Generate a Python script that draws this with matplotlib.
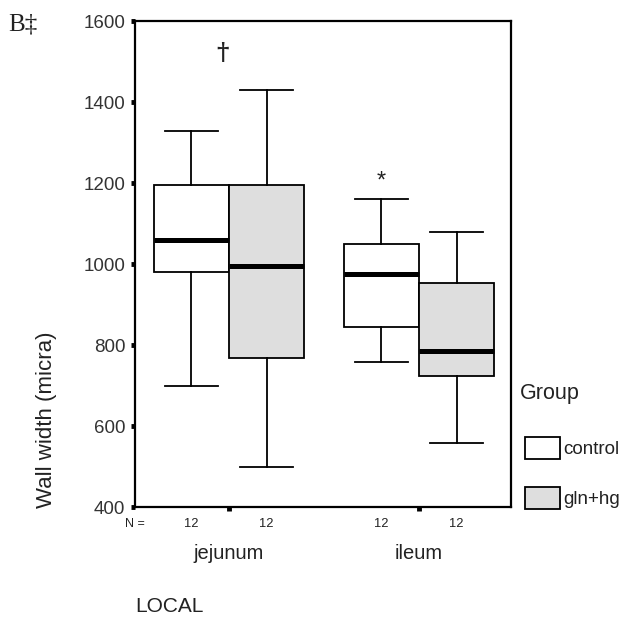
import matplotlib
matplotlib.use("Agg")
import matplotlib.pyplot as plt
from matplotlib.patches import Rectangle

# ---- data ----
categories = ["jejunum", "ileum"]
groups = ["control", "gln+hg"]
n_counts = [12, 12, 12, 12]
# order: jejunum-control, jejunum-gln+hg, ileum-control, ileum-gln+hg
medians = [1060, 996, 977, 786]
q1 = [981, 768, 846, 725]
q3 = [1196, 1196, 1050, 953]
whislo = [699, 500, 759, 560]
whishi = [1328, 1430, 1161, 1079]
yticks = [400, 600, 800, 1000, 1200, 1400, 1600]
fills = ["white", "#dedede"]

plt.rcParams['font.family'] = ['Liberation Sans', 'DejaVu Sans']
txt = "#222222"

fig = plt.figure(figsize=(6.25, 6.21), dpi=100)
ax = fig.add_axes([0.216, 0.183, 0.6016, 0.7827])

offset = 0.198
width = 0.395
positions = []
for ci in range(len(categories)):
    positions += [ci + 1 - offset, ci + 1 + offset]

stats = []
for i in range(4):
    stats.append(dict(med=medians[i], q1=q1[i], q3=q3[i],
                      whislo=whislo[i], whishi=whishi[i], fliers=[]))

bp = ax.bxp(stats, positions=positions, widths=width, patch_artist=True,
            showfliers=False, capwidths=0.28,
            boxprops=dict(linewidth=1.3, edgecolor="black"),
            whiskerprops=dict(linewidth=1.3, color="black"),
            capprops=dict(linewidth=1.3, color="black"),
            medianprops=dict(linewidth=3.6, color="black", solid_capstyle="butt"),
            manage_ticks=False)
for i, patch in enumerate(bp["boxes"]):
    patch.set_facecolor(fills[i % 2])

ax.set_xlim(0.505, 2.484)
ax.set_ylim(400, 1600)
ax.set_yticks(yticks)
ax.set_yticklabels([str(v) for v in yticks], fontsize=13.5, color="#333333")
ax.set_xticks([1, 2])
ax.set_xticklabels([])
ax.tick_params(axis="both", direction="out", length=3, width=3.5, color="black")
ax.tick_params(axis="y", pad=4)
for s in ax.spines.values():
    s.set_linewidth(1.6)

# N labels
ax.text(0.505, -0.035, "N =", transform=ax.get_xaxis_transform(), ha="center",
        va="center", fontsize=9, color=txt)
for p, n in zip(positions, n_counts):
    ax.text(p, -0.035, str(n), transform=ax.get_xaxis_transform(), ha="center",
            va="center", fontsize=9.3, color=txt)
for ci, c in enumerate(categories):
    ax.text(ci + 1, -0.094, c, transform=ax.get_xaxis_transform(), ha="center",
            va="center", fontsize=14.5, color=txt)

# significance markers
ax.text(0.967, 1522, "†", ha="center", va="center", fontsize=17,
        family="DejaVu Serif", fontweight="bold", color=txt)
ax.text(positions[2], 1204, "*", ha="center", va="center", fontsize=17, color=txt)

fig.text(47 / 625, 1 - 420 / 621, "Wall width (micra)", rotation=90, ha="center",
         va="center", fontsize=16, color=txt)
fig.text(135 / 625, 1 - 606 / 621, "LOCAL", ha="left", va="center", fontsize=15,
         color=txt)
fig.text(8 / 625, 1 - 25 / 621, "B‡", ha="left", va="center", fontsize=18,
         family=["Liberation Serif", "DejaVu Serif"], color=txt)

# legend
fig.text(520 / 625, 1 - 394 / 621, "Group", ha="left", va="center", fontsize=15.5,
         color=txt)
legend_y = [448, 498]
for g, yc, fc in zip(groups, legend_y, fills):
    fig.patches.append(Rectangle((525 / 625, 1 - (yc + 11) / 621), 35 / 625, 22 / 621,
                                 transform=fig.transFigure, facecolor=fc,
                                 edgecolor="black", linewidth=1.3))
    fig.text(563 / 625, 1 - (yc + 2) / 621, g, ha="left", va="center",
             fontsize=13.5, color=txt)

fig.savefig("out.png", dpi=100)
